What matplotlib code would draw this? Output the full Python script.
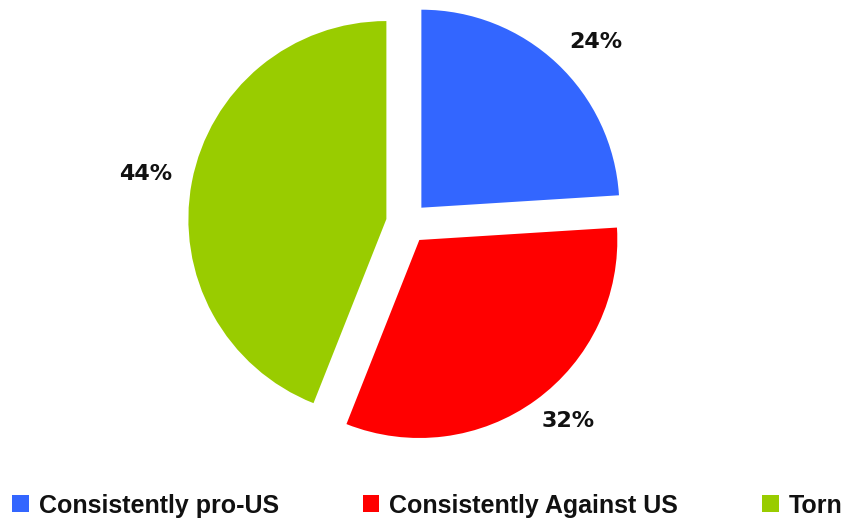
import numpy as np
import matplotlib
matplotlib.use('agg')
import matplotlib.pyplot as plt

labels = ['Consistently pro-US', 'Consistently Against US', 'Torn']
shares = [24, 32, 44]
colors = ['#3366FF', '#FF0000', '#99CC00']

# where each percent label sits: distance from the wedge centre (in radii)
# and a small turn (degrees) away from the wedge's middle angle
label_r = [1.215, 1.18, 1.235]
label_turn = [-3.3, 3.4, 0.1]

plt.rcParams['font.family'] = ['Liberation Sans', 'DejaVu Sans']

fig = plt.figure(figsize=(8.53, 5.19), dpi=100)
ax = fig.add_axes([0, 0, 1, 1])

explode = 0.106
wedges, _, pct = ax.pie(shares, colors=colors, startangle=90, counterclock=False,
                        explode=[explode] * 3, autopct='%d%%', pctdistance=1.2,
                        wedgeprops=dict(linewidth=0))
for w, t, r, turn in zip(wedges, pct, label_r, label_turn):
    mid = np.deg2rad((w.theta1 + w.theta2) / 2)
    ang = mid + np.deg2rad(turn)
    x0 = explode * np.cos(mid)
    y0 = explode * np.sin(mid)
    t.set_position((x0 + r * np.cos(ang), y0 + r * np.sin(ang)))
    t.set(fontsize=16, fontweight='bold', color='#111111', family='DejaVu Sans')

# one data unit = 198 px, pie centre at (407, 223) from top-left
scale = 198.0
cx, cy = 407, 223
ax.set_xlim(-cx / scale, (853 - cx) / scale)
ax.set_ylim(-(519 - cy) / scale, cy / scale)
ax.set_aspect('equal')
ax.axis('off')

leg = fig.legend(wedges, labels, loc='center left', bbox_to_anchor=(-0.012, 0.026),
                 ncol=3, frameon=False, handlelength=0.65, handleheight=0.68,
                 handletextpad=0.4, columnspacing=3.37,
                 prop=dict(size=18, weight='bold'))
for t in leg.get_texts():
    t.set_color('#111111')

fig.savefig('out.png', dpi=100)
